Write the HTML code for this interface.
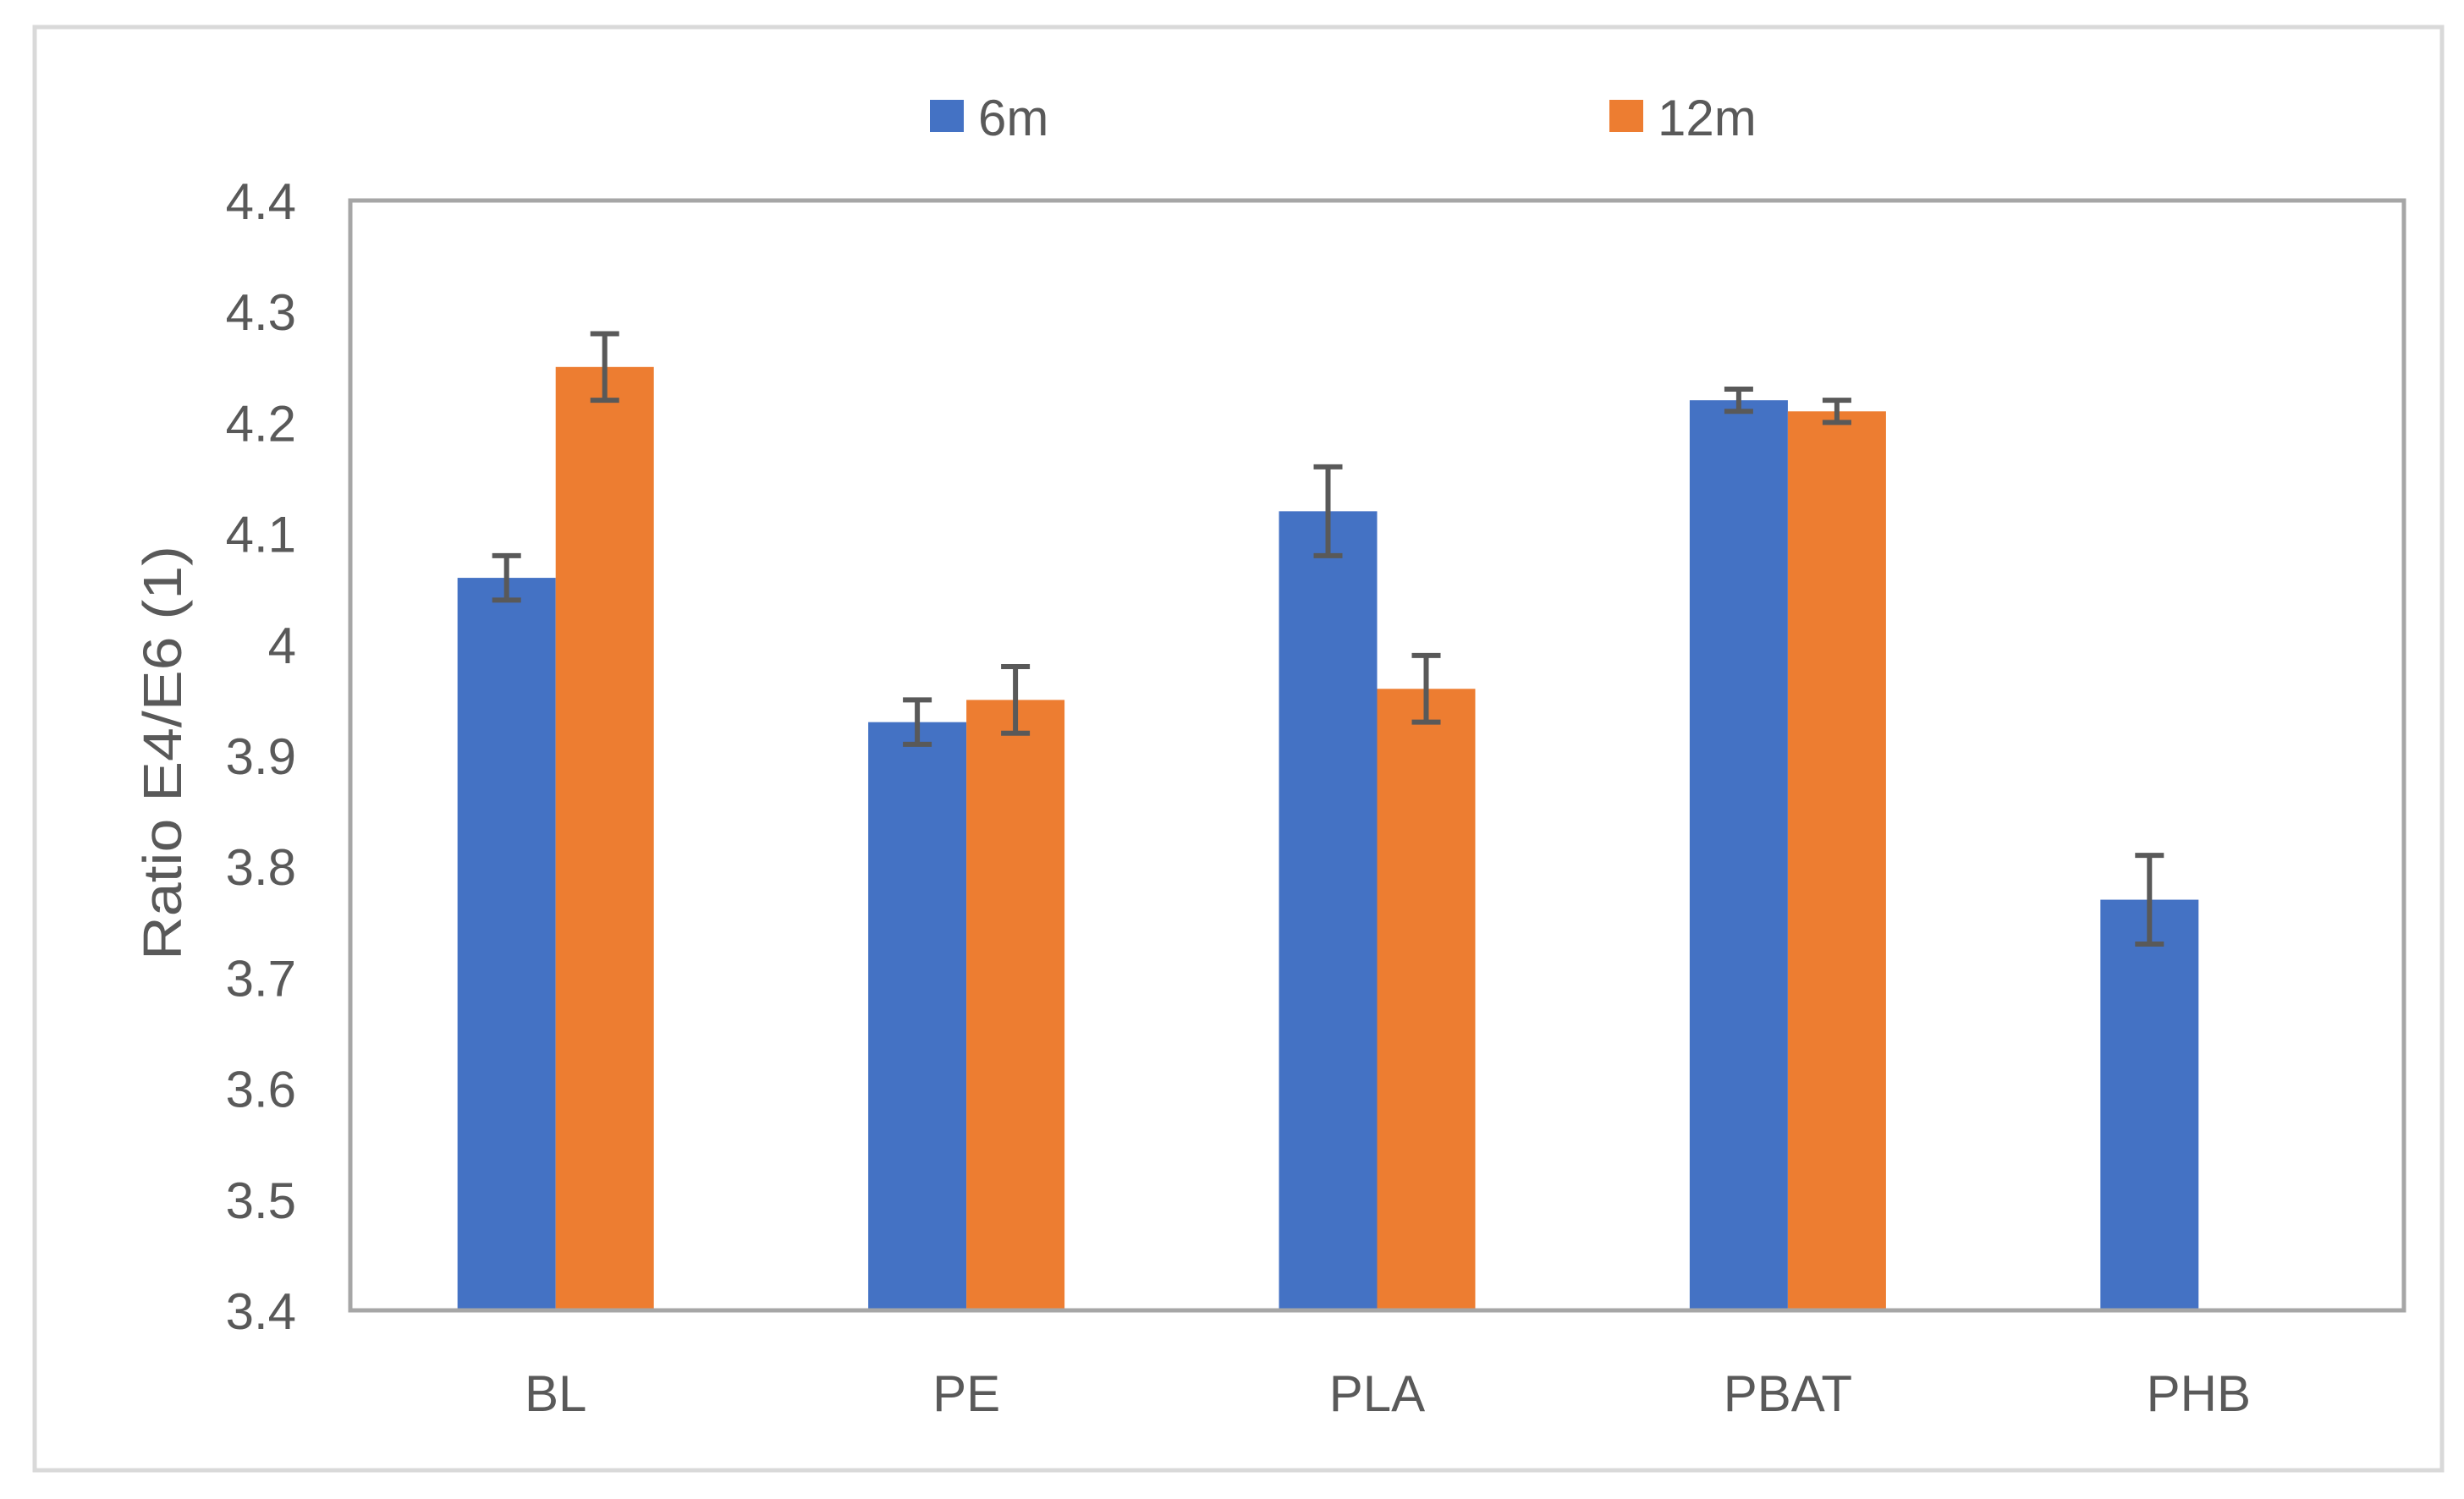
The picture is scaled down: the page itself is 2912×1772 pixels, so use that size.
<!DOCTYPE html>
<html><head><meta charset="utf-8"><style>
html,body{margin:0;padding:0;background:#fff;}
svg{display:block;}
text{font-family:"Liberation Sans",sans-serif;fill:#595959;}
</style></head><body>
<svg id="chart" width="2912" height="1772" viewBox="0 0 2912 1772" xmlns="http://www.w3.org/2000/svg">
<rect x="41" y="32" width="2845" height="1706" fill="#fff" stroke="#d9d9d9" stroke-width="5"/>
<g>
<rect x="1099" y="118" width="40" height="38" fill="#4472c4"/>
<text x="1156" y="160" font-size="60">6m</text>
<rect x="1902" y="118" width="40" height="38" fill="#ed7d31"/>
<text x="1959" y="160" font-size="60">12m</text>
</g>
<text transform="translate(214,890) rotate(-90) scale(1.12,1)" text-anchor="middle" font-size="64">Ratio E4/E6 (1)</text>
<g id="plot"></g>
</svg>
<script>
const categories = ["BL","PE","PLA","PBAT","PHB"];
const series6m = [4.06,3.93,4.12,4.22,3.77];
const err6m = [0.02,0.02,0.04,0.01,0.04];
const series12m = [4.25,3.95,3.96,4.21,null];
const err12m = [0.03,0.03,0.03,0.01,null];
const yTicks = [3.4,3.5,3.6,3.7,3.8,3.9,4.0,4.1,4.2,4.3,4.4];
const yTickLabels = ["3.4","3.5","3.6","3.7","3.8","3.9","4","4.1","4.2","4.3","4.4"];

const NS="http://www.w3.org/2000/svg";
const L=414,R=2841,T=237,B=1549;
const yMin=3.4,yMax=4.4;
function y(v){return B-(v-yMin)/(yMax-yMin)*(B-T);}
const band=(R-L)/categories.length;
function xc(i){return L+band*(i+0.5);}
const bw=116;
const g=document.getElementById('plot');
function mk(tag,attrs){const e=document.createElementNS(NS,tag);for(const k in attrs)e.setAttribute(k,attrs[k]);g.appendChild(e);return e;}

yTicks.forEach((t,i)=>{
  const e=mk('text',{x:350,y:y(t)+22,'text-anchor':'end','font-size':60});
  e.textContent=yTickLabels[i];
  
  
});
categories.forEach((c,i)=>{
  const e=mk('text',{x:xc(i),y:1668,'text-anchor':'middle','font-size':60});
  e.textContent=c;
  
  
});
function bars(vals,errs,off,color,name){
  vals.forEach((v,i)=>{
    if(v==null)return;
    const x0=xc(i)+off;
    const r=mk('rect',{x:x0,y:y(v),width:bw,height:B-y(v),fill:color});
    
    
    const e=errs[i];
    if(e!=null){
      const cx=x0+bw/2;
      const p=mk('path',{d:`M${cx-17},${y(v+e)}H${cx+17}M${cx},${y(v+e)}V${y(v-e)}M${cx-17},${y(v-e)}H${cx+17}`,stroke:'#595959','stroke-width':6,fill:'none'});
      
      
    }
  });
}
bars(series6m,err6m,-bw,'#4472c4','6m');
bars(series12m,err12m,0,'#ed7d31','12m');
const f=mk('rect',{x:L,y:T,width:R-L,height:B-T,fill:'none',stroke:'#a6a6a6','stroke-width':5});


</script>
</body></html>
